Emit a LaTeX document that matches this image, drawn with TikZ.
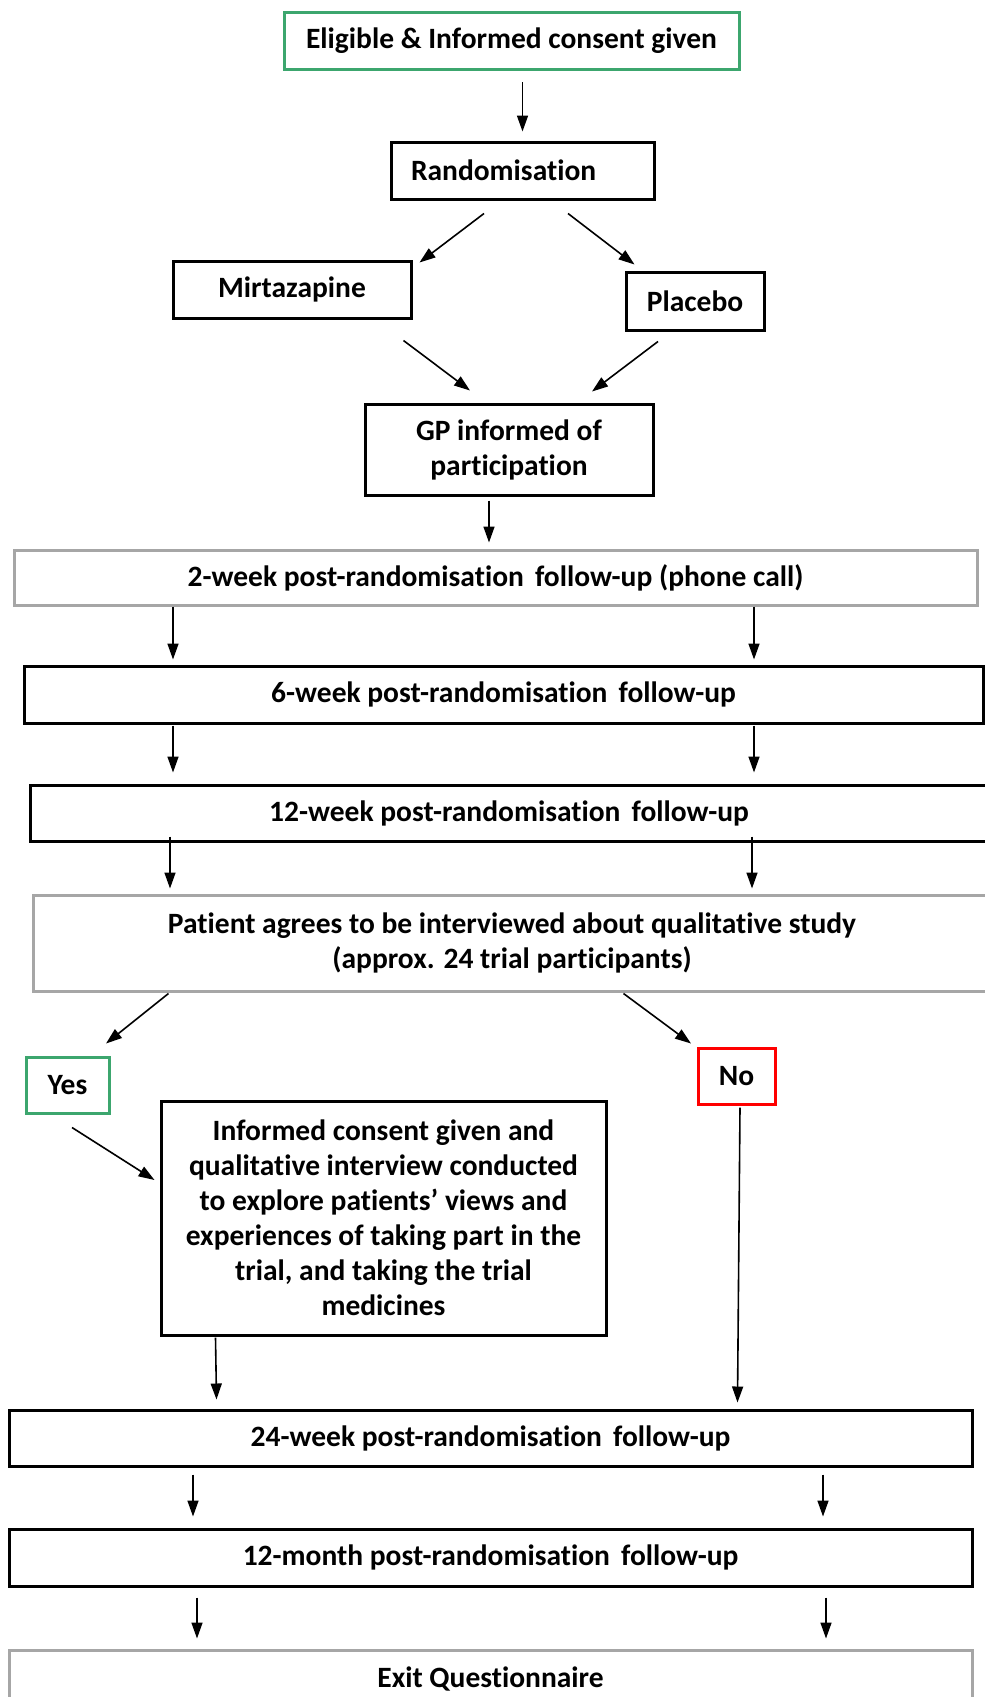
\documentclass[tikz,border=0pt]{standalone}
\usepackage{fontspec}
\setmainfont{Carlito}[Ligatures=NoCommon]
\usetikzlibrary{arrows.meta,calc}
\definecolor{boxgreen}{RGB}{60,166,110}
\definecolor{boxgray}{RGB}{166,166,166}
\definecolor{boxred}{RGB}{255,0,0}
\begin{document}
\begin{tikzpicture}[x=1pt,y=-1pt,
  box/.style={draw=black,line width=3pt,rectangle,inner sep=0pt,align=center,
    font=\fontsize{29.5}{35}\selectfont\bfseries},
  graybox/.style={box,draw=boxgray},
  greenbox/.style={box,draw=boxgreen},
  redbox/.style={box,draw=boxred},
  arr/.style={line width=1.6pt,-{Triangle[length=16pt,width=11pt]}}]
\clip (0,0) rectangle (985,1697);
\fill[white] (0,0) rectangle (985,1697);

\node[greenbox,minimum width=455,minimum height=57] (elig) at (511.5,41) {Eligible \& Informed consent given};
\node[box,minimum width=263,minimum height=57,text width=223pt,align=left] (rand) at (522.5,170.5) {Randomisation};
\node[box,minimum width=238,minimum height=57] (mirt) at (292,289.5) {Mirtazapine};
\node[box,minimum width=138,minimum height=58] (plac) at (695,301) {Placebo};
\node[box,minimum width=288,minimum height=91] (gp) at (509,449.5) {GP informed of\\participation};
\node[graybox,minimum width=963,minimum height=55] (w2) at (495.5,577.5) {2-week post-randomisation\hspace{0.15em} follow-up (phone call)};
\node[box,minimum width=959,minimum height=57] (w6) at (503.5,694.5) {6-week post-randomisation\hspace{0.15em} follow-up};
\node[box,minimum width=958,minimum height=56] (w12) at (509,813) {12-week post-randomisation\hspace{0.15em} follow-up};
\node[graybox,minimum width=958,minimum height=96] (pat) at (512,943) {Patient agrees to be interviewed about qualitative study\\(approx. 24 trial participants)};
\node[greenbox,minimum width=83,minimum height=56] (yes) at (67.5,1085) {Yes};
\node[redbox,minimum width=77,minimum height=56] (no) at (736.5,1076) {No};
\node[box,minimum width=445,minimum height=234] (inf) at (383.5,1218) {Informed consent given and\\qualitative interview conducted\\to explore patients’ views and\\experiences of taking part in the\\trial, and taking the trial\\medicines};
\node[box,minimum width=963,minimum height=56] (w24) at (490.5,1438) {24-week post-randomisation\hspace{0.15em} follow-up};
\node[box,minimum width=963,minimum height=57] (m12) at (490.5,1557.5) {12-month post-randomisation\hspace{0.15em} follow-up};
\node[graybox,minimum width=963,minimum height=57] (exit) at (490.5,1678.5) {Exit Questionnaire};

\coordinate (a1) at (173,0);
\coordinate (a2) at (754,0);
\coordinate (a3) at (170,0);
\coordinate (a4) at (752,0);
\coordinate (b1) at (193,0);
\coordinate (b2) at (823,0);
\coordinate (c1) at (197,0);
\coordinate (c2) at (826,0);

\draw[arr,shorten <=11pt,shorten >=9pt] (elig.south -| rand) -- (rand.north);
\draw[arr] ($(rand.south)+(-38.5,13)$) -- ($(mirt.north east)+(7,3)$);
\draw[arr] ($(rand.south)+(45.5,13)$) -- ($(plac.north west)+(10,-6)$);
\draw[arr] ($(mirt.south east)+(-9,21)$) -- ($(gp.north)+(-39,-12)$);
\draw[arr] ($(plac.south)+(-37,10)$) -- ($(gp.north)+(83,-11)$);
\draw[arr] ($(gp.south)+(-20,4)$) -- ($(w2.north)+(-6.5,-6)$);

\draw[arr,shorten >=5pt] (w2.south -| a1) -- (w6.north -| a1);
\draw[arr,shorten >=5pt] (w2.south -| a2) -- (w6.north -| a2);
\draw[arr,shorten <=1pt,shorten >=11pt] (w6.south -| a1) -- (w12.north -| a1);
\draw[arr,shorten <=1pt,shorten >=11pt] (w6.south -| a2) -- (w12.north -| a2);
\draw[arr,shorten <=-6pt,shorten >=5pt] (w12.south -| a3) -- (pat.north -| a3);
\draw[arr,shorten <=-6pt,shorten >=5pt] (w12.south -| a4) -- (pat.north -| a4);

\draw[arr] ($(pat.south west)+(137,1)$) -- ($(yes.north)+(38.5,-12)$);
\draw[arr] ($(pat.south west)+(592,1)$) -- ($(no.north)+(-45.5,-3)$);
\draw[arr] ($(yes.south)+(4.5,13)$) -- ($(inf.west)+(-5,-38)$);
\draw[arr] ($(inf.south west)+(56,1)$) -- ($(w24.north west)+(209,-9)$);
\draw[arr] ($(no.south)+(3.5,2)$) -- ($(w24.north west)+(730,-6)$);

\draw[arr,shorten <=7pt,shorten >=11pt] (w24.south -| b1) -- (m12.north -| b1);
\draw[arr,shorten <=7pt,shorten >=11pt] (w24.south -| b2) -- (m12.north -| b2);
\draw[arr,shorten <=10pt,shorten >=10pt] (m12.south -| c1) -- (exit.north -| c1);
\draw[arr,shorten <=10pt,shorten >=10pt] (m12.south -| c2) -- (exit.north -| c2);
\end{tikzpicture}
\end{document}
